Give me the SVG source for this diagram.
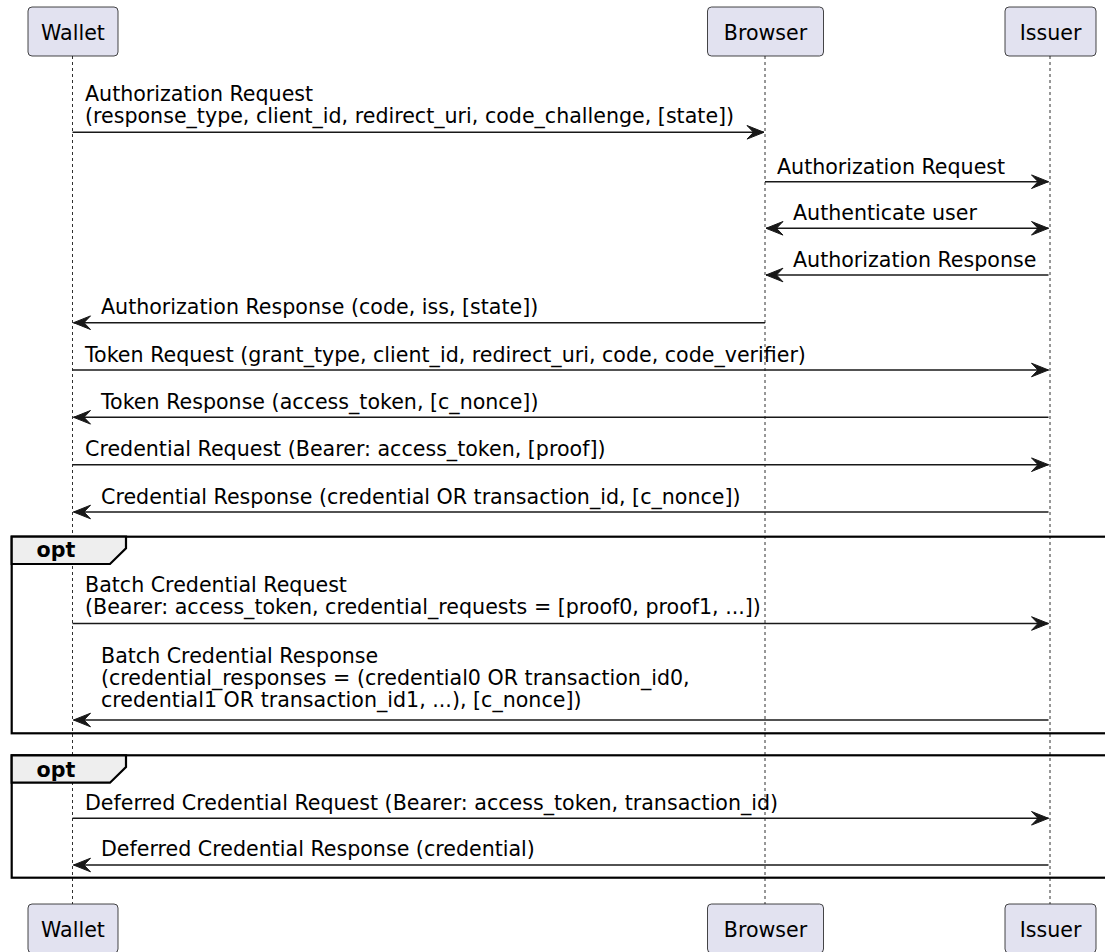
<svg xmlns="http://www.w3.org/2000/svg" width="1105" height="952" viewBox="0 0 1105 952">
  <style>
    text { font-family: "DejaVu Sans", "Noto Sans", sans-serif; font-size: 20.6px; fill: #000000; }
    .lifeline { stroke: #181818; stroke-width: 0.9; stroke-dasharray: 3,3; fill: none; }
    .actor { fill: #E2E2F0; stroke: #181818; stroke-width: 0.8; }
    .msg { stroke: #181818; stroke-width: 1.5; fill: none; }
    .frame { fill: none; stroke: #000000; stroke-width: 2.2; }
    .tab { fill: #EEEEEE; stroke: #000000; stroke-width: 2.2; stroke-linejoin: miter; }
    .kw { font-weight: bold; }
    .mid { text-anchor: middle; }
  </style>
  <defs>
    <marker id="head" viewBox="0 0 20 16" refX="18" refY="8" markerWidth="20" markerHeight="16" markerUnits="userSpaceOnUse" orient="auto-start-reverse">
      <polygon points="1,1.2 18,8 1,14.8 7.5,8" fill="#181818" stroke="#181818" stroke-width="1" stroke-linejoin="miter"/>
    </marker>
  </defs>
  <rect width="1105" height="952" fill="#FFFFFF"/>

  <!-- lifelines -->
  <g id="lifelines">
    <line class="lifeline" x1="72.5" y1="56" x2="72.5" y2="904"/>
    <line class="lifeline" x1="765" y1="56" x2="765" y2="904"/>
    <line class="lifeline" x1="1050" y1="56" x2="1050" y2="904"/>
  </g>

  <!-- participants -->
  <g id="wallet">
    <rect class="actor" x="28" y="7" width="90" height="49" rx="4"/>
    <text class="mid" x="73" y="39.5">Wallet</text>
    <rect class="actor" x="28" y="904" width="90" height="49" rx="4"/>
    <text class="mid" x="73" y="936.5">Wallet</text>
  </g>
  <g id="browser">
    <rect class="actor" x="707.5" y="7" width="116" height="49" rx="4"/>
    <text class="mid" x="765.5" y="39.5">Browser</text>
    <rect class="actor" x="707.5" y="904" width="116" height="49" rx="4"/>
    <text class="mid" x="765.5" y="936.5">Browser</text>
  </g>
  <g id="issuer">
    <rect class="actor" x="1005" y="7" width="91" height="49" rx="4"/>
    <text class="mid" x="1050.5" y="39.5">Issuer</text>
    <rect class="actor" x="1005" y="904" width="91" height="49" rx="4"/>
    <text class="mid" x="1050.5" y="936.5">Issuer</text>
  </g>

  <!-- optional fragments -->
  <g id="opt-batch">
    <rect class="frame" x="11.7" y="536.7" width="1110" height="196.6"/>
    <polygon class="tab" points="11.7,536.7 126,536.7 126,548.3 110,564 11.7,564"/>
    <text class="kw" x="36.5" y="557.3">opt</text>
  </g>
  <g id="opt-deferred">
    <rect class="frame" x="11.7" y="755.3" width="1110" height="122.4"/>
    <polygon class="tab" points="11.7,755.3 126,755.3 126,767 110,782.7 11.7,782.7"/>
    <text class="kw" x="36.5" y="776.7">opt</text>
  </g>

  <!-- messages -->
  <g id="connectors">
    <line class="msg" x1="72.5" y1="132.3" x2="764" y2="132.3" marker-end="url(#head)"/>
    <line class="msg" x1="765" y1="181.7" x2="1048.5" y2="181.7" marker-end="url(#head)"/>
    <line class="msg" x1="766" y1="228.3" x2="1048.5" y2="228.3" marker-start="url(#head)" marker-end="url(#head)"/>
    <line class="msg" x1="1048.5" y1="275" x2="766" y2="275" marker-end="url(#head)"/>
    <line class="msg" x1="765" y1="322.7" x2="73.5" y2="322.7" marker-end="url(#head)"/>
    <line class="msg" x1="72.5" y1="370" x2="1048.5" y2="370" marker-end="url(#head)"/>
    <line class="msg" x1="1048.5" y1="417.3" x2="73.5" y2="417.3" marker-end="url(#head)"/>
    <line class="msg" x1="72.5" y1="464.7" x2="1048.5" y2="464.7" marker-end="url(#head)"/>
    <line class="msg" x1="1048.5" y1="512" x2="73.5" y2="512" marker-end="url(#head)"/>
    <line class="msg" x1="72.5" y1="623.5" x2="1048.5" y2="623.5" marker-end="url(#head)"/>
    <line class="msg" x1="1048.5" y1="720" x2="73.5" y2="720" marker-end="url(#head)"/>
    <line class="msg" x1="72.5" y1="818.3" x2="1048.5" y2="818.3" marker-end="url(#head)"/>
    <line class="msg" x1="1048.5" y1="865" x2="73.5" y2="865" marker-end="url(#head)"/>
  </g>

  <!-- message labels -->
  <g id="labels">
    <text x="85" y="101">Authorization Request</text>
    <text x="85" y="123">(response_type, client_id, redirect_uri, code_challenge, [state])</text>
    <text x="777" y="173.5">Authorization Request</text>
    <text x="793" y="220.3">Authenticate user</text>
    <text x="793" y="267">Authorization Response</text>
    <text x="101" y="314.3">Authorization Response (code, iss, [state])</text>
    <text x="85" y="361.6">Token Request (grant_type, client_id, redirect_uri, code, code_verifier)</text>
    <text x="101" y="408.8">Token Response (access_token, [c_nonce])</text>
    <text x="85" y="456.2">Credential Request (Bearer: access_token, [proof])</text>
    <text x="101" y="503.5">Credential Response (credential OR transaction_id, [c_nonce])</text>
    <text x="85" y="591.8">Batch Credential Request</text>
    <text x="85" y="613.8">(Bearer: access_token, credential_requests = [proof0, proof1, ...])</text>
    <text x="101" y="663">Batch Credential Response</text>
    <text x="101" y="685">(credential_responses = (credential0 OR transaction_id0,</text>
    <text x="101" y="707">credential1 OR transaction_id1, ...), [c_nonce])</text>
    <text x="85" y="809.6">Deferred Credential Request (Bearer: access_token, transaction_id)</text>
    <text x="101" y="856.3">Deferred Credential Response (credential)</text>
  </g>
</svg>
